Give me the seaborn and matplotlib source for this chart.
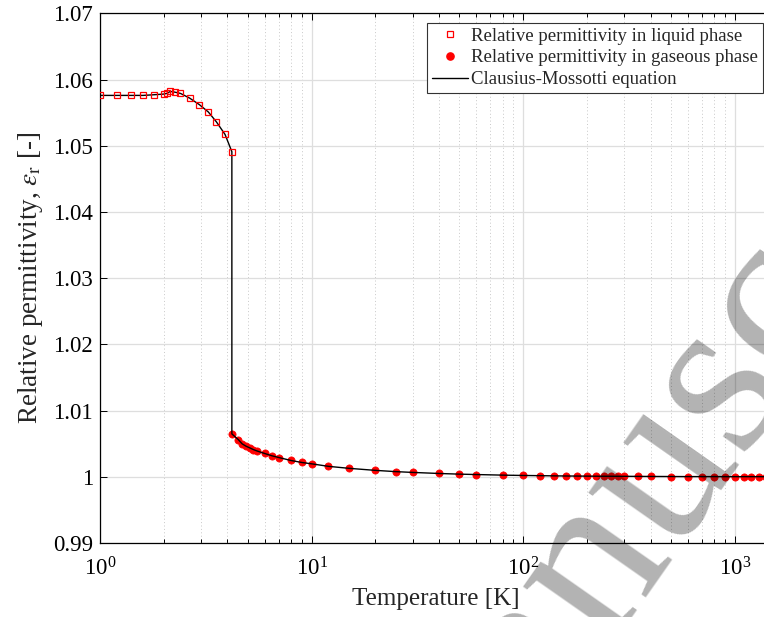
import matplotlib
matplotlib.use("Agg")
import matplotlib.pyplot as plt
import pandas as pd
import seaborn as sns
from matplotlib.ticker import LogLocator, FixedLocator, FixedFormatter, NullFormatter
from matplotlib.lines import Line2D

# Relative permittivity of helium: liquid branch (below 4.2 K)
T_liquid = [1.0, 1.2, 1.4, 1.6, 1.8, 2.0, 2.07, 2.15, 2.25, 2.4, 2.65, 2.95,
            3.25, 3.55, 3.9, 4.2]
eps_liquid = [1.0576, 1.0576, 1.0576, 1.0576, 1.0577, 1.0578, 1.0579, 1.0582,
              1.0581, 1.0579, 1.0572, 1.0562, 1.0551, 1.0536, 1.0517, 1.0491]

# Gaseous branch (from 4.2 K upward)
T_gas = [4.2, 4.5, 4.7, 4.9, 5.1, 5.3, 5.5, 6, 6.5, 7, 8, 9, 10, 12, 15, 20,
         25, 30, 40, 50, 60, 80, 100, 120, 140, 160, 180, 200, 220, 240, 260,
         280, 300, 350, 400, 500, 600, 700, 800, 900, 1000, 1100, 1200, 1300,
         1400]
eps_gas = [1.00648, 1.00563, 1.00497, 1.00462, 1.00437, 1.00412, 1.00392,
           1.00352, 1.00317, 1.00291, 1.00246, 1.00216, 1.00196, 1.00158,
           1.00128, 1.00097, 1.00078, 1.00066, 1.00050, 1.00040, 1.00034,
           1.00025, 1.00020, 1.00017, 1.00014, 1.00012, 1.00011, 1.00010,
           1.00009, 1.00008, 1.00008, 1.00007, 1.00007, 1.00006, 1.00005,
           1.00004, 1.00003, 1.00003, 1.00003, 1.00002, 1.00002, 1.00002,
           1.00002, 1.00002, 1.00001]

y_ticks = [0.99, 1.00, 1.01, 1.02, 1.03, 1.04, 1.05, 1.06, 1.07]
y_tick_labels = ["0.99", "1", "1.01", "1.02", "1.03", "1.04", "1.05", "1.06", "1.07"]

labels = ["Relative permittivity in liquid phase",
          "Relative permittivity in gaseous phase",
          "Clausius-Mossotti equation"]

sns.set_style("white")
plt.rcParams["font.family"] = ["Liberation Serif", "DejaVu Serif"]
plt.rcParams["mathtext.fontset"] = "stix"

W, H = 764, 617
fig = plt.figure(figsize=(W / 100, H / 100), dpi=100)
ax = fig.add_axes([100 / W, 74 / H, 672 / W, 529.7 / H])

liquid = pd.DataFrame({"T": T_liquid, "eps": eps_liquid})
gas = pd.DataFrame({"T": T_gas, "eps": eps_gas})
cm = pd.concat([liquid, gas], ignore_index=True)

red = "#ff0000"
sq_size, dot_size = 4.8, 5.2
sns.lineplot(data=gas, x="T", y="eps", ax=ax, estimator=None, sort=False,
             linestyle="", marker="o", markersize=dot_size, markerfacecolor=red,
             markeredgecolor=red, markeredgewidth=0.5, color=red, zorder=3)
sns.lineplot(data=cm, x="T", y="eps", ax=ax, estimator=None, sort=False,
             color="black", linewidth=1.0, zorder=4)
sns.lineplot(data=liquid, x="T", y="eps", ax=ax, estimator=None, sort=False,
             linestyle="", marker="s", markersize=sq_size, markerfacecolor="none",
             markeredgecolor=red, markeredgewidth=0.9, color=red, zorder=5)

ax.set_xscale("log")
ax.set_xlim(1, 1500)
ax.set_ylim(0.99, 1.07)

ax.xaxis.set_major_locator(LogLocator(base=10, numticks=10))
ax.xaxis.set_minor_locator(LogLocator(base=10, subs=range(2, 10), numticks=40))
ax.xaxis.set_minor_formatter(NullFormatter())
ax.yaxis.set_major_locator(FixedLocator(y_ticks))
ax.yaxis.set_major_formatter(FixedFormatter(y_tick_labels))

ax.set_axisbelow(True)
ax.grid(which="major", color="#dedede", linewidth=0.9, linestyle="-")
ax.grid(which="minor", axis="x", color="#c8c8c8", linewidth=0.7,
        linestyle=(0, (1, 2.5)))

ax.tick_params(which="both", direction="in", top=True, right=True,
               bottom=True, left=True, colors="black", width=0.7)
ax.tick_params(which="major", length=5, labelsize=16.5)
ax.tick_params(axis="y", which="major", pad=5)
ax.tick_params(axis="x", which="major", pad=10)
ax.tick_params(which="minor", length=3)
for sp in ax.spines.values():
    sp.set_color("black")
    sp.set_linewidth(0.9)

ax.set_xlabel("Temperature [K]", fontsize=18, labelpad=6)
ax.set_ylabel(r"Relative permittivity, $\epsilon_{\mathrm{r}}$ [-]",
              fontsize=19.5, labelpad=6)

handles = [
    Line2D([], [], linestyle="", marker="s", markersize=sq_size,
           markerfacecolor="none", markeredgecolor=red, markeredgewidth=0.9),
    Line2D([], [], linestyle="", marker="o", markersize=dot_size,
           markerfacecolor=red, markeredgecolor=red),
    Line2D([], [], color="black", linewidth=1.0),
]
leg = ax.legend(handles, labels, loc="upper right",
                bbox_to_anchor=(763 / W, 1 - 22.7 / H),
                bbox_transform=fig.transFigure, borderaxespad=0,
                frameon=True, fancybox=False, framealpha=1,
                edgecolor="#333333", fontsize=13.5, handlelength=1.9,
                handletextpad=0.2, labelspacing=0.25, borderpad=0.25)
leg.get_frame().set_linewidth(0.8)

# Diagonal watermark text
fig.text(732 / W, 1 - 466 / H, "Manuscript", rotation=55, fontsize=168,
         color="black", alpha=0.3, ha="center", va="baseline",
         rotation_mode="anchor", family="Liberation Serif", zorder=20)

fig.savefig("out.png", dpi=100)
